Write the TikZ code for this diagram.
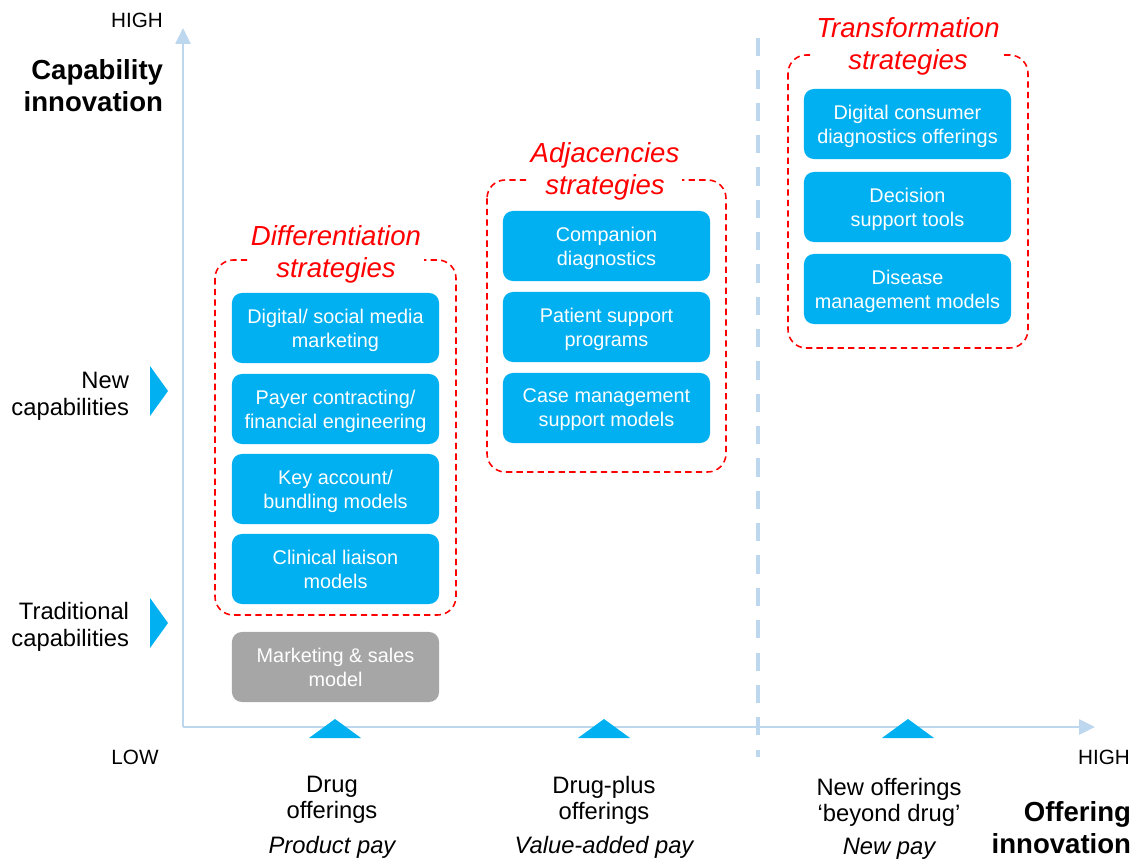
\documentclass[tikz,border=0pt]{standalone}
\usepackage{fontspec}
\setmainfont{Liberation Sans}
\usetikzlibrary{arrows.meta}

\definecolor{offerblue}{RGB}{0,176,240}
\definecolor{axisblue}{RGB}{189,215,238}
\definecolor{oldgrey}{RGB}{166,166,166}

\tikzset{
  offer/.style={fill=offerblue, text=white, rounded corners=7pt, inner sep=0pt,
    minimum width=5.175cm, minimum height=1.75cm, align=center, text depth=0pt,
    font=\fontsize{14.1}{17}\selectfont},
  oldoffer/.style={offer, fill=oldgrey},
  stratframe/.style={draw=red, line width=1.1pt, dash pattern=on 4.5pt off 3pt, rounded corners=13pt},
  strattitle/.style={fill=white, inner sep=2pt, text=red, align=center,
    font=\fontsize{19.6}{22.7}\selectfont\itshape},
  axis/.style={draw=axisblue, line width=1.4pt, -{Triangle[length=0.4cm,width=0.38cm]}},
  divider/.style={draw=axisblue, line width=2.2pt, dash pattern=on 13pt off 10pt},
  axistitle/.style={align=right, font=\fontsize{19.6}{22.7}\selectfont\bfseries},
  levellabel/.style={align=right, font=\fontsize{16.9}{19.1}\selectfont},
  offerlabel/.style={align=center, font=\fontsize{16.9}{18.4}\selectfont},
  paylabel/.style={font=\fontsize{16.9}{18.4}\selectfont\itshape},
  endlabel/.style={font=\fontsize{14.7}{17}\selectfont}
}

\begin{document}
\begin{tikzpicture}[x=0.025cm, y=-0.025cm]
\useasboundingbox (0,0) rectangle (1139,859);

% axes and the dashed divider
\coordinate (o) at (183,727);
\coordinate (ytop) at (183,28);
\coordinate (xend) at (1095,727);
\coordinate (divtop) at (758,38);
\coordinate (divbot) at (758,757);
\draw[axis] (o) -- (ytop);
\draw[axis] (o) -- (xend);
\draw[divider] (divtop) -- (divbot);

% level markers
\fill[offerblue] (150,366) -- (168,391) -- (150,416) -- cycle;
\fill[offerblue] (150,598) -- (168,623) -- (150,648) -- cycle;
\foreach \x in {335,604,908}
  \fill[offerblue] (\x-26,738) -- (\x,719) -- (\x+26,738) -- cycle;

% axis texts
\node[endlabel] (yhigh) at (137,20) {HIGH};
\node[endlabel] (low) at (135,757) {LOW};
\node[endlabel] (xhigh) at (1104,757) {HIGH};
\node[axistitle, anchor=east] (capinno) at (168,86) {Capability\\innovation};
\node[axistitle, anchor=east] (offinno) at (1136,828) {Offering\\innovation};
\node[levellabel, anchor=east] (newcap) at (134,396) {New\\capabilities};
\node[levellabel, anchor=east] (tradcap) at (134,627) {Traditional\\capabilities};

\node[offerlabel] (drug) at (332,800) {Drug\\offerings};
\node[paylabel] (prodpay) at (332,847) {Product pay};
\node[offerlabel] (drugplus) at (604,800) {Drug-plus\\offerings};
\node[paylabel] (valpay) at (604,847) {Value-added pay};
\node[offerlabel] (beyond) at (889,802) {New offerings\\‘beyond drug’};
\node[paylabel] (newpay) at (889,849) {New pay};

% differentiation
\draw[stratframe] (215,260) rectangle (456,615);
\node[strattitle] (difftitle) at (336,254) {Differentiation\\strategies};
\node[offer] (social) at (335.5,328) {Digital/ social media\\marketing};
\node[offer] (payer) at (335.5,409) {Payer contracting/\\financial engineering};
\node[offer] (keyacc) at (335.5,489) {Key account/\\bundling models};
\node[offer] (liaison) at (335.5,569) {Clinical liaison\\models};
\node[oldoffer] (sales) at (335.5,667) {Marketing \& sales\\model};

% adjacencies
\draw[stratframe] (487,180) rectangle (726,472);
\node[strattitle] (adjtitle) at (605,171) {Adjacencies\\strategies};
\node[offer] (compdiag) at (606.5,246) {Companion\\diagnostics};
\node[offer] (patient) at (606.5,327) {Patient support\\programs};
\node[offer] (casemgmt) at (606.5,408) {Case management\\support models};

% transformation
\draw[stratframe] (788,55) rectangle (1028,348);
\node[strattitle] (transtitle) at (908,46) {Transformation\\strategies};
\node[offer] (consumer) at (907.5,124) {Digital consumer\\diagnostics offerings};
\node[offer] (decision) at (907.5,207) {Decision\\support tools};
\node[offer] (disease) at (907.5,289) {Disease\\management models};
\end{tikzpicture}
\end{document}
